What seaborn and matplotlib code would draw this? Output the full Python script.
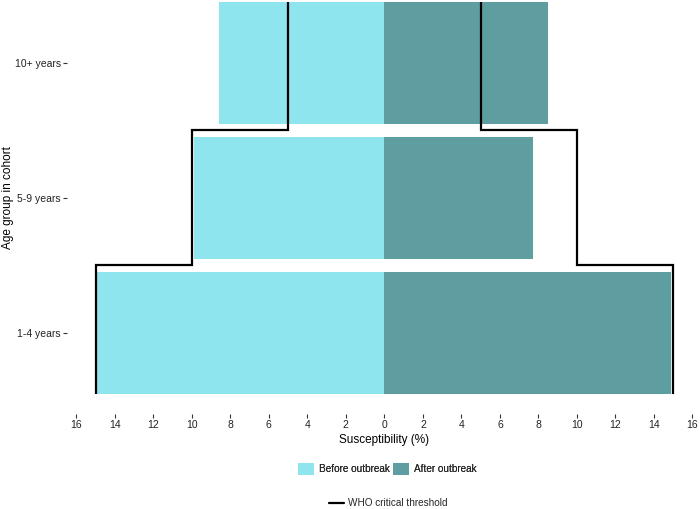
import numpy as np
import pandas as pd
import matplotlib
matplotlib.use("Agg")
import matplotlib.pyplot as plt
import seaborn as sns
from matplotlib.patches import Patch
from matplotlib.lines import Line2D

# ---- data ----
age_groups = ["10+ years", "5-9 years", "1-4 years"]
before_outbreak = [8.6, 9.9, 14.95]
after_outbreak = [8.5, 7.7, 14.9]
who_threshold = [5, 10, 15]
periods = ["Before outbreak", "After outbreak"]
colors = ["#8EE5EE", "#5F9EA0"]
x_ticks = list(range(-16, 17, 2))

sns.set_theme(style="white")
plt.rcParams["font.family"] = ["Liberation Sans", "DejaVu Sans"]

df = pd.DataFrame({
    "age": age_groups * 2,
    "value": [-v for v in before_outbreak] + list(after_outbreak),
    "period": [periods[0]] * len(age_groups) + [periods[1]] * len(age_groups),
})

W, H = 700, 509
fig = plt.figure(figsize=(W / 100, H / 100), dpi=100)
ax = fig.add_axes([67 / W, 1 - 414 / H, 633 / W, 414 / H])

bar_w = 0.9
sns.barplot(data=df, x="value", y="age", hue="period", order=age_groups,
            hue_order=periods, palette=dict(zip(periods, colors)),
            dodge=False, width=bar_w, saturation=1, orient="h",
            legend=False, ax=ax, linewidth=0, edgecolor="none")

# WHO threshold step outline
n = len(who_threshold)
xs, ys = [], []
for i, t in enumerate(who_threshold):
    y0 = i - bar_w / 2 if i == 0 else i - 0.5
    y1 = i + bar_w / 2 if i == n - 1 else i + 0.5
    xs += [t, t]
    ys += [y0, y1]
for sign in (1, -1):
    ax.plot([sign * x for x in xs], ys, color="black", lw=1.6,
            solid_joinstyle="miter", solid_capstyle="butt", zorder=5)

ax.set_xlim(-16.48, 16.39)
ax.set_ylim(2.6, -0.465)
ax.set_xticks(x_ticks)
ax.set_xticklabels([str(abs(t)) for t in x_ticks])
for s in ax.spines.values():
    s.set_visible(False)
ax.tick_params(axis="both", which="major", bottom=True, left=True,
               length=2.9, width=0.8, color="#333333", labelsize=7.5,
               labelcolor="#222222", pad=1.5)
ax.set_xlabel("")
ax.set_ylabel("")
ax.grid(False)

fig.text(384 / W, 1 - 440 / H, "Susceptibility (%)", ha="center", va="center",
         fontsize=8.5, color="black")
fig.text(8 / W, 1 - 198 / H, "Age group in cohort", ha="center", va="center",
         rotation=90, fontsize=8.5, color="black")

fs = 7.2
handles = [Patch(facecolor=c, edgecolor="none", label=p) for p, c in zip(periods, colors)]
leg1 = fig.legend(handles=handles, loc="center", bbox_to_anchor=(387 / W, 1 - 469 / H),
                  ncol=2, frameon=False, fontsize=fs, handlelength=1.6,
                  handleheight=1.6, handletextpad=0.5, columnspacing=0.3,
                  borderpad=0, borderaxespad=0)
fig.add_artist(leg1)
fig.legend(handles=[Line2D([], [], color="black", lw=1.6, label="WHO critical threshold")],
           loc="center", bbox_to_anchor=(388 / W, 1 - 503 / H), frameon=False,
           fontsize=fs, handlelength=1.5, handletextpad=0.4, borderpad=0,
           borderaxespad=0)

fig.savefig("out.png", dpi=100)
